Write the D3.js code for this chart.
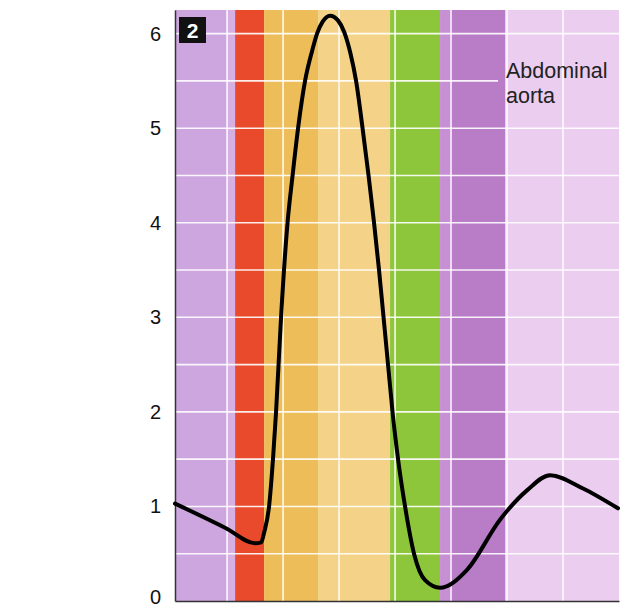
<!DOCTYPE html>
<html>
<head>
<meta charset="utf-8">
<script src="https://cdn.jsdelivr.net/npm/d3@7"></script>
<style>
  html, body { margin: 0; padding: 0; background: #fff; }
  svg { display: block; }
  text { font-family: "Liberation Sans", Arial, Helvetica, sans-serif; }
</style>
</head>
<body>
<svg id="chart" width="636" height="610"></svg>
<script>
// ---- data ----
// time axis in grid units (one vertical grid line per unit)
const time = [0.07, 0.98, 1.5, 1.61, 1.66, 1.75, 1.82, 1.875, 1.964, 2.08, 2.17, 2.268, 2.393, 2.52, 2.607, 2.71, 2.839,
  2.98, 3.09, 3.20, 3.304, 3.420, 3.527, 3.625, 3.714, 3.795, 3.875, 3.955, 4.054, 4.179, 4.339, 4.536, 4.804,
  5.286, 5.875, 6.357, 6.768, 7.357, 7.982];
const pressure = [1.03, 0.77, 0.61, 0.62, 0.72, 1.0, 1.5, 2.0, 3.0, 4.0, 4.5, 5.0, 5.5, 5.82, 6.0, 6.13, 6.19,
  6.14, 6.02, 5.8, 5.5, 5.0, 4.5, 4.0, 3.5, 3.0, 2.5, 2.0, 1.5, 1.0, 0.5, 0.22, 0.14,
  0.33, 0.86, 1.17, 1.33, 1.19, 0.98];

const bandStart = [0.07, 1.0, 1.143, 1.661, 2.625, 3.911, 4.804, 5.0, 5.964];
const bandEnd   = [1.0, 1.143, 1.661, 2.625, 3.911, 4.804, 5.0, 5.964, 8.0];
const bandColor = ["#cda6e0", "#d7b0e3", "#ea4a2c", "#ecbd58", "#f4d388", "#8dc63a", "#c78fd4", "#b97dc8", "#ebcdef"];

const yTicks = [0, 1, 2, 3, 4, 5, 6];
const yGrid = [0.5, 1, 1.5, 2, 2.5, 3, 3.5, 4, 4.5, 5, 5.5, 6];
const xGrid = [1, 2, 3, 4, 5, 6, 7];
const panelLabel = "2";
const titleLines = ["Abdominal", "aorta"];

// ---- scales ----
const svg = d3.select("#chart");
const x = d3.scaleLinear().domain([0.07, 8]).range([175, 619]);
const y = d3.scaleLinear().domain([0, 6.25]).range([601, 10]);

// bands
svg.append("g").selectAll("rect").data(bandStart).join("rect")
  .attr("x", (d) => x(d))
  .attr("width", (d, i) => x(bandEnd[i]) - x(d))
  .attr("y", y(6.25))
  .attr("height", y(0) - y(6.25))
  .attr("fill", (d, i) => bandColor[i]);

// grid
const grid = svg.append("g").attr("stroke", "#fff").attr("stroke-opacity", 0.9).attr("stroke-width", 1.6);
grid.selectAll("line.h").data(yGrid).join("line").attr("class", "h")
  .attr("x1", x(0.07)).attr("x2", (d) => d === 5.5 ? x(5.84) : x(8))
  .attr("y1", (d) => y(d)).attr("y2", (d) => y(d));
grid.selectAll("line.v").data(xGrid).join("line").attr("class", "v")
  .attr("x1", (d) => x(d)).attr("x2", (d) => x(d))
  .attr("y1", y(6.25)).attr("y2", y(0));

// axes
const yAxis = d3.axisLeft(y).tickValues(yTicks).tickSize(0).tickPadding(14).tickFormat(d3.format("d"));
const gy = svg.append("g").attr("transform", `translate(${x(0.07)},0)`).call(yAxis);
gy.select(".domain").attr("stroke", "#333").attr("stroke-width", 1.5);
gy.selectAll("text").attr("font-size", 20).attr("fill", "#111")
  .attr("font-family", "'Liberation Sans', Arial, sans-serif")
  .attr("dy", (d) => d === 0 ? "0.1em" : "0.32em");

const xAxis = d3.axisBottom(x).tickValues([]).tickSize(0);
const gx = svg.append("g").attr("transform", `translate(0,${y(0)})`).call(xAxis);
gx.select(".domain").attr("stroke", "#333").attr("stroke-width", 1.5);

// curve
const pts = time.map((t, i) => [t, pressure[i]]);
svg.append("path").datum(pts)
  .attr("fill", "none").attr("stroke", "#000").attr("stroke-width", 4)
  .attr("stroke-linejoin", "round").attr("stroke-linecap", "round")
  .attr("d", d3.line().x((d) => x(d[0])).y((d) => y(d[1])).curve(d3.curveMonotoneX));

// panel label
svg.append("rect").attr("x", 179).attr("y", 17).attr("width", 27).attr("height", 26).attr("fill", "#111");
svg.append("text").attr("x", 192.5).attr("y", 38).attr("text-anchor", "middle")
  .attr("font-size", 21).attr("font-weight", "bold").attr("fill", "#fff").text(panelLabel);

// title
svg.append("text").attr("font-size", 21.5).attr("fill", "#222")
  .selectAll("tspan").data(titleLines).join("tspan")
  .attr("x", 506).attr("y", (d, i) => 78 + i * 25).text((d) => d);
</script>
</body>
</html>
